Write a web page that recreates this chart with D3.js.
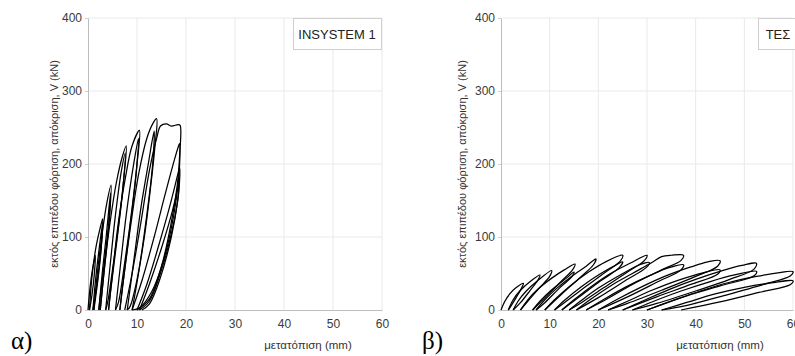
<!DOCTYPE html>
<html>
<head>
<meta charset="utf-8">
<script src="https://cdn.jsdelivr.net/npm/d3@7"></script>
<style>
  body { margin: 0; background: #fff; }
  svg { display: block; }
  text { font-family: "Liberation Sans", Arial, sans-serif; }
</style>
</head>
<body>
<div id="chart"></div>
<script>
// tick values shared by both panels
const xTicks = [0, 10, 20, 30, 40, 50, 60];
const yTicks = [0, 100, 200, 300, 400];
const xLabel = "μετατόπιση (mm)";
const yLabel = "εκτός επιπέδου φόρτιση, απόκριση, V (kN)";

// panel α: INSYSTEM 1, each cycle is [displacement mm, load kN]
const insystemCycles = [
  [[0,0],[0.4,30],[0.9,55],[1.5,75],[1.3,50],[0.8,20],[0.3,0]],
  [[0.3,0],[0.8,45],[1.6,85],[2.4,110],[3.0,125],[2.8,95],[2.2,55],[1.5,20],[1.0,0]],
  [[1.0,0],[1.6,45],[2.3,85],[3.0,120],[2.7,85],[2.0,40],[1.2,0]],
  [[1.2,0],[1.9,50],[2.8,100],[3.8,145],[4.7,171],[4.4,130],[3.6,80],[2.7,30],[2.2,0]],
  [[2.2,0],[2.9,50],[3.7,100],[4.6,160],[4.3,120],[3.4,60],[2.5,0]],
  [[2.5,0],[3.4,60],[4.5,120],[5.8,175],[7.0,210],[7.8,225],[7.3,180],[6.3,120],[5.0,55],[4.0,10],[3.6,0]],
  [[3.6,0],[4.5,60],[5.6,130],[6.8,190],[7.6,215],[7.1,165],[5.9,95],[4.5,20],[4.2,0]],
  [[4.2,0],[5.0,50],[6.2,120],[7.6,180],[9.0,225],[10.5,246],[10.0,200],[9.0,140],[7.6,70],[6.2,10],[5.6,0]],
  [[5.6,0],[6.6,60],[7.8,130],[9.2,195],[10.3,235],[9.8,185],[8.6,115],[7.0,30],[6.5,0]],
  [[6.5,0],[7.5,55],[8.8,120],[10.3,185],[12.0,235],[13.2,255],[14.0,262],[13.6,220],[12.8,170],[11.5,100],[9.8,35],[8.6,5],[8.0,0]],
  [[8.0,0],[9.2,60],[10.8,140],[12.3,200],[13.5,245],[13.2,200],[12.0,130],[10.3,50],[9.0,0]],
  [[7.5,0],[9.0,50],[10.8,120],[12.5,190],[14.0,235],[14.8,252],[16.0,255],[17.0,252],[18.4,254],[18.8,253],[18.8,220],[18.5,180],[17.5,130],[15.5,70],[13.0,25],[10.5,3],[9.0,0]],
  [[9.0,0],[11.0,40],[13.5,100],[15.8,160],[17.6,205],[18.5,225],[18.7,228],[18.6,200],[18.2,170],[17.0,120],[15.0,60],[12.5,15],[10.0,0]],
  [[10.0,0],[12.0,35],[14.5,90],[16.8,145],[18.3,185],[18.7,195],[18.5,160],[17.2,110],[15.0,55],[12.5,12],[10.5,0]],
  [[10.5,0],[12.5,35],[15.0,85],[17.2,135],[18.4,170],[18.6,178],[18.3,150],[17.0,100],[14.8,45],[12.5,8],[11.0,0]]
];

// panel β: ΤΕΣ
const tesCycles = [
  [[0,0],[0.8,12],[1.8,22],[3,30],[4.6,36.5],[4.3,31],[3.2,18],[2,5],[1.5,0]],
  [[1.5,0],[2.5,14],[4,27],[6,39],[8,48],[7.6,41],[6,27],[4,10],[2.5,0]],
  [[2.5,0],[3.5,12],[5.2,26],[7.5,40],[10.4,54],[10,46],[8,31],[5.5,12],[4,0]],
  [[4,0],[5.5,14],[7.5,28],[10.5,44],[13,55],[15.2,63],[14.7,55],[12.5,40],[9.5,20],[6.5,0]],
  [[6.5,0],[8,12],[10.5,28],[13.5,44],[15,52],[14.6,46],[12,30],[9,10],[7.2,0]],
  [[7.2,0],[9,14],[11.5,30],[14.5,46],[17.5,60],[19.5,70],[19,62],[16.5,46],[12.5,22],[9,0]],
  [[9,0],[11,14],[14,32],[18,52],[21.5,66],[25,75],[24.5,67],[21.5,52],[17,30],[13,10],[11,0]],
  [[11,0],[13,13],[16.5,32],[20.5,50],[24,63],[25,66],[24.3,58],[20.5,40],[15.5,15],[12.5,0]],
  [[12.5,0],[15,14],[18.5,32],[22.5,50],[26.5,64],[30,75],[29.5,68],[26,52],[21,30],[16.5,10],[14,0]],
  [[14,0],[16.5,13],[20,30],[24.5,48],[28.5,62],[30.5,65],[29.8,58],[25.5,40],[20,17],[15.5,0]],
  [[15.5,0],[18.5,15],[22.5,33],[27,50],[31,65],[33,73],[35,75],[37.5,75],[37,68],[33,55],[27,35],[21.5,14],[17.5,0]],
  [[17.5,0],[21,14],[25.5,31],[30.5,47],[34.5,58],[37.5,62],[37,55],[32,38],[26,18],[20,0]],
  [[20,0],[24,15],[29,32],[34,47],[39,59],[42.5,66],[45,67.5],[44.5,60],[40,46],[33,27],[26,9],[22,0]],
  [[22,0],[26,12],[31,27],[36.5,41],[41.5,51],[45,55],[44.5,49],[39,35],[32,18],[25,0]],
  [[25,0],[29,12],[34.5,28],[40,42],[45.5,54],[49.5,61],[52.5,64],[52,56],[47,42],[40,26],[32,9],[27,0]],
  [[27,0],[31,11],[37,26],[43,39],[48,48],[52.5,53],[52,47],[45,33],[37,17],[30,0]],
  [[30,0],[35,12],[41,26],[47,38],[52.5,46],[56.5,50.5],[60,52.5],[59.5,47],[54,35],[46,20],[38,6],[33,0]],
  [[33,0],[38,10],[44,22],[50,31],[55.5,37],[60,40],[59.5,35],[53,24],[45,11],[37,0]]
];

const width = 795, height = 356;

const svg = d3.select("#chart").append("svg")
  .attr("width", width)
  .attr("height", height);

function drawPanel(opts) {
  const x = d3.scaleLinear().domain([0, 60]).range([opts.left, opts.right]);
  const y = d3.scaleLinear().domain([0, 400]).range([310, 18]);
  const g = svg.append("g");

  // grid
  g.append("g").selectAll("line.vg")
    .data(xTicks.slice(1))
    .join("line")
    .attr("x1", d => x(d)).attr("x2", d => x(d))
    .attr("y1", y(0)).attr("y2", y(400))
    .attr("stroke", "#e9e9e9");
  g.append("g").selectAll("line.hg")
    .data(yTicks.slice(1))
    .join("line")
    .attr("x1", x(0)).attr("x2", x(60))
    .attr("y1", d => y(d)).attr("y2", d => y(d))
    .attr("stroke", "#e9e9e9");

  // axes
  const xAxis = g.append("g")
    .attr("transform", "translate(0," + y(0) + ")")
    .call(d3.axisBottom(x).tickValues(xTicks).tickSize(0).tickPadding(9).tickSizeOuter(0));
  const yAxis = g.append("g")
    .attr("transform", "translate(" + x(0) + ",0)")
    .call(d3.axisLeft(y).tickValues(yTicks).tickSize(3).tickPadding(3).tickSizeOuter(0));
  [xAxis, yAxis].forEach(a => {
    a.select(".domain").attr("stroke", "#bdbdbd");
    a.selectAll(".tick line").attr("stroke", "#cfcfcf");
    a.selectAll("text").attr("font-size", 12).attr("fill", "#3a3a3a");
  });

  // hysteresis loops
  const line = d3.line()
    .x(d => x(d[0]))
    .y(d => y(d[1]))
    .curve(d3.curveCatmullRom.alpha(0.5));
  g.append("g").selectAll("path")
    .data(opts.cycles)
    .join("path")
    .attr("d", line)
    .attr("fill", "none")
    .attr("stroke", "#000")
    .attr("stroke-width", 1.25)
    .attr("stroke-linejoin", "round");

  // legend box
  g.append("rect")
    .attr("x", opts.legendX + 0.5).attr("y", 18.5)
    .attr("width", opts.legendW).attr("height", 31)
    .attr("fill", "#fff").attr("stroke", "#cfcfcf");
  g.append("text")
    .attr("x", opts.legendX + opts.legendW / 2).attr("y", 39)
    .attr("text-anchor", "middle")
    .attr("font-size", 13).attr("fill", "#222")
    .text(opts.name);

  // axis titles
  g.append("text")
    .attr("transform", "translate(" + opts.yLabelX + ",164) rotate(-90)")
    .attr("text-anchor", "middle")
    .attr("font-size", 11).attr("fill", "#333")
    .text(yLabel);
  g.append("text")
    .attr("x", opts.xLabelX).attr("y", 349)
    .attr("text-anchor", "middle")
    .attr("font-size", 11.5).attr("fill", "#333")
    .text(xLabel);

  // panel letter
  g.append("text")
    .attr("x", opts.letterX).attr("y", 349)
    .style("font-family", "'Liberation Serif', 'Times New Roman', serif")
    .attr("font-size", 25).attr("fill", "#000")
    .text(opts.letter);
}

drawPanel({ left: 88, right: 382, cycles: insystemCycles, name: "INSYSTEM 1",
  legendX: 293, legendW: 88, yLabelX: 58, xLabelX: 308, letterX: 11, letter: "α)" });
drawPanel({ left: 501, right: 793, cycles: tesCycles, name: "ΤΕΣ",
  legendX: 758, legendW: 40, yLabelX: 466, xLabelX: 720, letterX: 422, letter: "β)" });
</script>
</body>
</html>
